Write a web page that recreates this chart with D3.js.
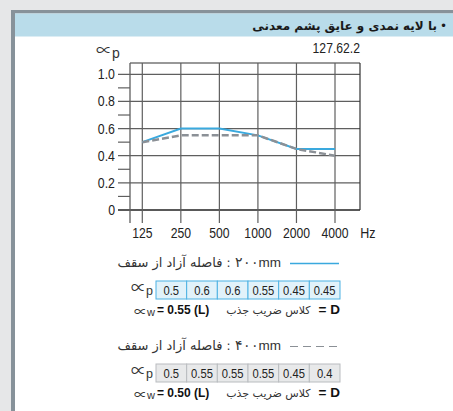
<!DOCTYPE html>
<html><head><meta charset="utf-8">
<script src="https://cdn.jsdelivr.net/npm/d3@7"></script>
<style>
html,body{margin:0;padding:0;background:#e6e7e8;}
svg{display:block;}
</style></head>
<body>
<svg id="c" width="453" height="411"></svg>
<script>
const freqs = ["125","250","500","1000","2000","4000"];
const series200 = [0.5,0.6,0.6,0.55,0.45,0.45];
const series400 = [0.5,0.55,0.55,0.55,0.45,0.4];
const yTicks = [0,0.2,0.4,0.6,0.8,1.0];
const yTickLabels = ["0","0.2","0.4","0.6","0.8","1.0"];
const minorTicks = [0.1,0.3,0.5,0.7,0.9];
const title = "با لایه نمدی و عایق پشم معدنی";
const code = "127.62.2";
const distLabel = "فاصله آزاد از سقف";
const dist1 = "۲۰۰mm", dist2 = "۴۰۰mm";
const classLabel = "کلاس ضریب جذب";
const aw1 = "0.55 (L)", aw2 = "0.50 (L)";

const NUM = "'Liberation Sans',Arial,sans-serif";
const FA = "'DejaVu Sans',sans-serif";
const SYM = "'Noto Sans CJK SC',sans-serif";
const BLUE = "#3aa9de", GREY = "#8b9096", GRID = "#5f5f5f";

function narrow(sel, f){
  sel.each(function(){
    const L = this.getComputedTextLength();
    d3.select(this).attr("textLength", L*f).attr("lengthAdjust","spacingAndGlyphs");
  });
  return sel;
}

const svg = d3.select("#c");
// panel
svg.append("rect").attr("x",11).attr("y",10).attr("width",450).attr("height",410).attr("fill","#87929a");
svg.append("rect").attr("x",15).attr("y",13.5).attr("width",450).attr("height",410).attr("fill","#ffffff");
svg.append("rect").attr("x",15).attr("y",13.5).attr("width",450).attr("height",23).attr("fill","#b9dcea");
// header
svg.append("text").attr("x",447).attr("y",30).attr("text-anchor","end")
  .attr("font-family",FA).attr("font-size",12).attr("fill","#1a1a1a").text("•");
svg.append("text").attr("x",437).attr("y",30).attr("text-anchor","end")
  .attr("font-family",FA).attr("font-weight","bold").attr("font-size",12).attr("fill","#1a1a1a").text(title);

const x = d3.scalePoint().domain(freqs).range([142.3,335]);
const y = d3.scaleLinear().domain([0,1]).range([210,74.3]);
const g = svg.append("g");

// horizontal gridlines
g.selectAll(".hg").data(yTicks).join("line")
  .attr("x1",118).attr("x2",360).attr("y1",d=>y(d)).attr("y2",d=>y(d))
  .attr("stroke",d=>d===0?"#222":GRID).attr("stroke-width",d=>d===0?1.3:1.2);
g.selectAll(".mt").data(minorTicks).join("line")
  .attr("x1",118).attr("x2",130).attr("y1",d=>y(d)).attr("y2",d=>y(d))
  .attr("stroke",GRID).attr("stroke-width",1.2);
// top & right frame
g.append("line").attr("x1",130).attr("x2",360).attr("y1",63).attr("y2",63).attr("stroke","#333").attr("stroke-width",1.2);
g.append("line").attr("x1",360).attr("x2",360).attr("y1",63).attr("y2",y(0)).attr("stroke","#333").attr("stroke-width",1.2);
// left axis line
g.append("line").attr("x1",130).attr("x2",130).attr("y1",63).attr("y2",223).attr("stroke",GRID).attr("stroke-width",1.3);
// vertical gridlines
g.selectAll(".vg").data(freqs).join("line")
  .attr("x1",d=>x(d)).attr("x2",d=>x(d)).attr("y1",63).attr("y2",223)
  .attr("stroke",GRID).attr("stroke-width",1.2);

// y labels
narrow(g.selectAll(".yl").data(yTicks).join("text")
  .attr("x",115).attr("y",d=>y(d)+5).attr("text-anchor","end")
  .attr("font-family",NUM).attr("font-size",14.5).attr("fill","#222")
  .text((d,i)=>yTickLabels[i]), 0.85);
// x labels
narrow(g.selectAll(".xl").data(freqs).join("text")
  .attr("x",d=>x(d)).attr("y",238).attr("text-anchor","middle")
  .attr("font-family",NUM).attr("font-size",14.5).attr("fill","#222").text(d=>d), 0.84);
narrow(g.append("text").attr("x",368).attr("y",238).attr("text-anchor","middle")
  .attr("font-family",NUM).attr("font-size",14.5).attr("fill","#222").text("Hz"), 0.86);
// alpha symbol
function alpha(sel, xx, yy, sub, size, subSize, dy){
  const t = sel.append("text").attr("x",xx).attr("y",yy).attr("fill","#333");
  t.append("tspan").attr("dy",2).attr("font-family",SYM).attr("font-size",size).text("∝");
  t.append("tspan").attr("dy",dy-2).attr("font-family",NUM).attr("font-size",subSize).text(sub);
  return t;
}
alpha(svg,96,54,"p",16,14,4);
narrow(svg.append("text").attr("x",360).attr("y",53).attr("text-anchor","end")
  .attr("font-family",NUM).attr("font-size",14.5).attr("fill","#222").text(code), 0.84);

// lines
const line = d3.line().x((d,i)=>x(freqs[i])).y(d=>y(d));
g.append("path").datum(series200).attr("d",line).attr("fill","none").attr("stroke",BLUE).attr("stroke-width",2);
g.append("path").datum(series400).attr("d",line).attr("fill","none").attr("stroke",GREY).attr("stroke-width",2.5).attr("stroke-dasharray","7,3");

// legend blocks
function block(y0, dist, vals, aw, fill, stroke, dashed){
  const ll = svg.append("line").attr("x1",290).attr("x2",339).attr("y1",y0-3.5).attr("y2",y0-3.5)
    .attr("stroke",dashed?GREY:BLUE).attr("stroke-width",1.3);
  if(dashed) ll.attr("stroke-dasharray","8,5").attr("stroke-width",1.2);
  const t1 = svg.append("text").attr("x",281).attr("y",y0).attr("text-anchor","end")
    .attr("font-family",NUM).attr("font-size",13.5).attr("fill","#333").text(dist);
  const w1 = t1.node().getComputedTextLength();
  const t2 = svg.append("text").attr("x",281-w1-4).attr("y",y0).attr("text-anchor","end")
    .attr("font-family",FA).attr("font-size",12).attr("fill","#333").text(":");
  const w2 = t2.node().getComputedTextLength();
  svg.append("text").attr("x",281-w1-w2-8).attr("y",y0).attr("text-anchor","end")
    .attr("font-family",FA).attr("font-size",13).attr("fill","#333").text(distLabel);
  // table
  const ty = y0+14, th = 18;
  const cx = d3.scaleBand().domain(d3.range(vals.length)).range([156,340]);
  svg.append("g").selectAll("rect").data(vals).join("rect")
    .attr("x",(d,i)=>cx(i)).attr("y",ty).attr("width",cx.bandwidth()).attr("height",th)
    .attr("fill",fill).attr("stroke",stroke).attr("stroke-width",1);
  narrow(svg.append("g").selectAll("text").data(vals).join("text")
    .attr("x",(d,i)=>cx(i)+cx.bandwidth()/2).attr("y",ty+th/2+4.5).attr("text-anchor","middle")
    .attr("font-family",NUM).attr("font-size",13).attr("fill","#222").text(d=>d), 0.86);
  alpha(svg,131,ty+th/2+1,"p",15,12.5,4);
  // aw row
  const ay = ty+th+15;
  const a = alpha(svg,134,ay,"w",13,11,2);
  a.append("tspan").attr("dy",-2).attr("dx",2).attr("font-family",NUM).attr("font-weight","bold").attr("font-size",12).attr("fill","#111").text("= "+aw);
  const td = svg.append("text").attr("x",340).attr("y",ay).attr("text-anchor","end")
    .attr("font-family",NUM).attr("font-weight","bold").attr("font-size",13.5).attr("fill","#111").text("= D");
  const wd = td.node().getComputedTextLength();
  svg.append("text").attr("x",340-wd-8).attr("y",ay).attr("text-anchor","end")
    .attr("font-family",FA).attr("font-size",11).attr("fill","#333").text(classLabel);
}
block(267, dist1, series200, aw1, "#e1f2fa", "#4db2e3", false);
block(350, dist2, series400, aw2, "#e8e9ea", "#b9bcbf", true);
</script>
</body></html>
